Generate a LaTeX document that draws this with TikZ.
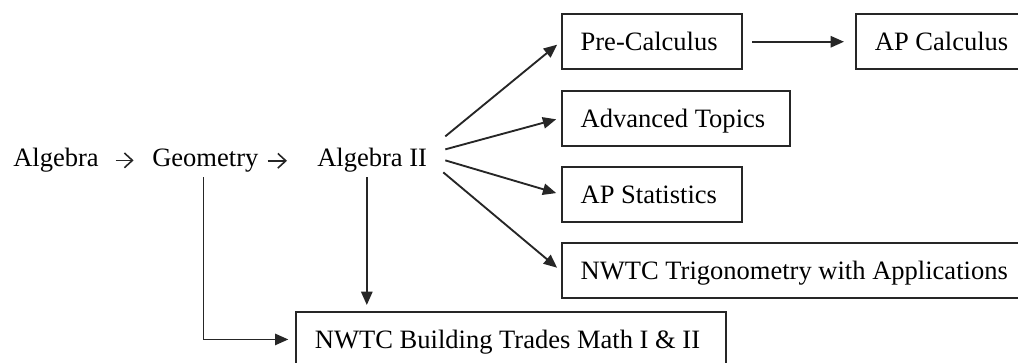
\documentclass[tikz,border=0pt]{standalone}
\usepackage{fontspec}
\setmainfont{Liberation Serif}
\newfontfamily\coursefont{Liberation Serif}
\usetikzlibrary{arrows.meta,positioning}

\begin{document}
\begin{tikzpicture}[
  x=0.75pt, y=-0.75pt,
  node distance=14.6pt and 83.8pt,
  course/.style={font=\coursefont\fontsize{19.9pt}{24pt}\selectfont, inner sep=0pt},
  box/.style={course, draw=black!85, line width=1.4pt, inner xsep=14.25pt, text height=13.5pt, text depth=0pt, minimum height=41.25pt, align=flush left},
  arrow/.style={-{Triangle[length=10pt,width=8.5pt]}, draw=black!85, line width=1.4pt},
  glyph/.style={-{Straight Barb[length=6pt,width=11pt]}, draw=black!85, line width=1.2pt}
]
\useasboundingbox (0,0) rectangle (1018,362);
\node[course, anchor=base west] (alg) at (13,166.7) {Algebra};
\node[course, anchor=base west] (geo) at (152,166.7) {Geometry};
\node[course, anchor=base west] (alg2) at (317,166.7) {Algebra II};
\node[box, text width=107pt, anchor=north west] (pre) at (560.7,13.3) {Pre-Calculus};
\node[box, text width=105pt, right=of pre] (apcalc) {AP Calculus};
\node[box, text width=142.5pt, below=of pre.south west, anchor=north west] (adv) {Advanced Topics};
\node[box, text width=107pt, below=of adv.south west, anchor=north west] (stats) {AP Statistics};
\node[box, text width=323pt, below=of stats.south west, anchor=north west] (trig) {NWTC Trigonometry with Applications};
\node[box, text width=294pt, anchor=north west] (build) at (295,311) {NWTC Building Trades Math I \& II};
\draw[glyph, shorten <=12.5pt, shorten >=13.8pt] (alg.east) -- (alg.east -| geo.west);
\draw[glyph, shorten <=6.75pt, shorten >=22.5pt] (geo.east) -- (geo.east -| alg2.west);
\draw[arrow, shorten <=3.4pt, shorten >=5pt] ([xshift=-1.4pt]geo.south) |- (build.west);
\draw[arrow, shorten <=3.4pt, shorten >=4.5pt] ([xshift=-4pt]alg2.south) -- ([xshift=-4pt]alg2.south |- build.north);
\draw[arrow, shorten >=3.5pt] ([shift={(18,-24)}]alg2.east) -- (pre.west);
\draw[arrow, shorten >=3.5pt] ([shift={(18,-11)}]alg2.east) -- (adv.west);
\draw[arrow, shorten >=3.5pt] ([shift={(18,0)}]alg2.east) -- (stats.west);
\draw[arrow, shorten >=3.5pt] ([shift={(16,12)}]alg2.east) -- (trig.west);
\draw[arrow, shorten <=6.75pt, shorten >=8.25pt] (pre) -- (apcalc);
\end{tikzpicture}
\end{document}
